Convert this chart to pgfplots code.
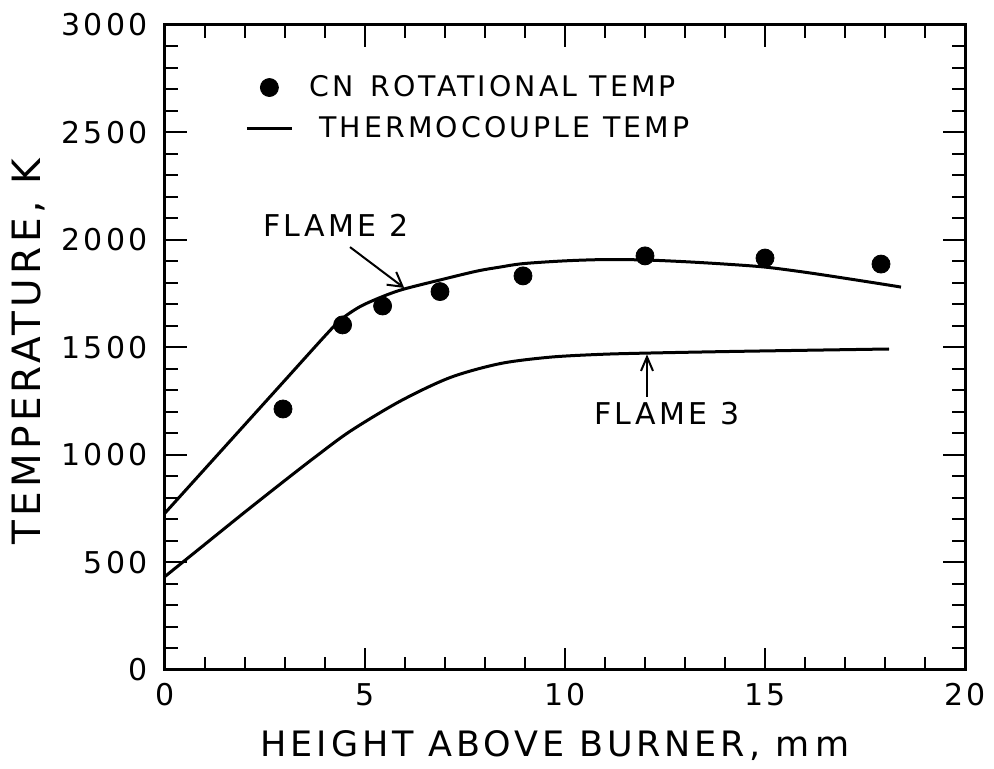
\documentclass[border=0pt]{standalone}
\usepackage{pgfplots}
\pgfplotsset{compat=1.18}
\usepackage{fontspec}
\setmainfont{DejaVu Sans}[LetterSpace=11]
\usetikzlibrary{arrows.meta}
\begin{document}
\begin{tikzpicture}
\begin{axis}[
  scale only axis, width=400pt, height=322.5pt,
  xmin=0, xmax=20, ymin=0, ymax=3000,
  xtick={0,5,10,15,20}, ytick={0,500,1000,1500,2000,2500,3000},
  minor x tick num=4, minor y tick num=4,
  tick align=inside,
  major tick length=11pt, minor tick length=6.5pt,
  every tick/.style={black, line width=1pt},
  axis line style={line width=1.5pt},
  /pgf/number format/assume math mode=true,
  /pgf/number format/1000 sep={},
  ticklabel style={font=\fontsize{15pt}{18pt}\selectfont, inner sep=0pt},
  yticklabel style={anchor=east, xshift=-8.5pt},
  xticklabel style={anchor=north, yshift=-6.5pt},
  xlabel={HEIGHT ABOVE BURNER, m\,m},
  ylabel={TEMPERATURE, K},
  xlabel style={at={(axis description cs:0.4875,0)}, anchor=center, yshift=-38pt, font=\fontsize{17.5pt}{20pt}\selectfont},
  ylabel style={at={(axis description cs:-0.171,0.493)}, anchor=center, font=\fontsize{19.5pt}{22pt}\selectfont},
  legend style={at={(axis cs:2.0,2767)}, anchor=north west, draw=none, fill=none, inner sep=0pt,
    font=\fontsize{14.2pt}{16pt}\selectfont, row sep=8.5pt, column sep=8pt,
    nodes={inner sep=0pt}},
  legend cell align=left,
]
\addlegendimage{legend image code/.code={\fill[black] (11.25pt,0pt) circle (4.5pt);}}
\addlegendentry{CN\, ROTATIONAL TEMP}
\addlegendimage{legend image code/.code={\draw[black, line width=1.5pt] (0pt,0pt) -- (22.5pt,0pt);}}
\addlegendentry{\hspace{5pt}THERMOCOUPLE TEMP}

% Flame 2 thermocouple
\addplot[black, line width=1.5pt, smooth, forget plot] coordinates {
(0,730) (1,936) (2,1142) (3,1348) (4,1554) (4.4,1630) (4.875,1690) (5.44,1737)
(5.96,1771) (6.875,1814) (7.79,1855) (8.375,1874) (8.95,1890) (10,1903) (11,1909)
(12,1907) (13,1899) (14,1888) (15,1874) (16,1850) (17,1822) (18,1793) (18.4,1781)};
% Flame 3 thermocouple
\addplot[black, line width=1.5pt, smooth, forget plot] coordinates {
(0,435) (1,585) (2,735) (3,882) (3.75,990) (4.625,1110) (5.875,1250)
(7.125,1360) (8.375,1425) (9.625,1455) (10.875,1468) (12.05,1474) (14,1481)
(16,1487) (18.1,1493)};
% CN rotational temperature
\addplot[black, only marks, mark=*, mark size=4.5pt, forget plot] coordinates {
(2.95,1214) (4.44,1605) (5.44,1693) (6.875,1760) (8.95,1833) (12.0,1926) (15.0,1916) (17.9,1888)};

\node[font=\fontsize{15pt}{18pt}\selectfont] at (axis cs:4.275,2070) {FLAME 2};
\draw[line width=1pt, -{Straight Barb[length=7pt,width=8pt]}] (axis cs:4.625,1967) -- (axis cs:5.98,1777);
\node[font=\fontsize{15pt}{18pt}\selectfont] at (axis cs:12.55,1191) {FLAME 3};
\draw[line width=1pt, -{Straight Barb[length=7pt,width=6pt]}] (axis cs:12.05,1270) -- (axis cs:12.05,1468);
\end{axis}
\pgfresetboundingbox
\path[use as bounding box] (-82.5pt,-49.5pt) rectangle (414.5pt,335pt);
\end{tikzpicture}
\end{document}
